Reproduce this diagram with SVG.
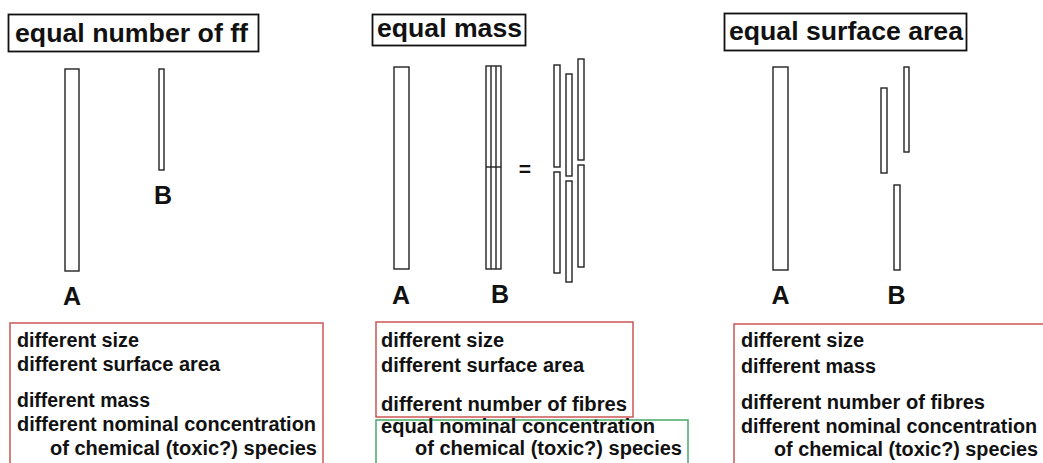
<svg xmlns="http://www.w3.org/2000/svg" width="1043" height="463" viewBox="0 0 1043 463">
<style>
  text { font-family: "Liberation Sans", Arial, sans-serif; font-weight: bold; fill: #111; }
  .title { font-size: 25px; }
  .lbl { font-size: 25px; text-anchor: middle; }
  .body { font-size: 19.5px; }
  .tbox { fill: #fff; stroke: #111; stroke-width: 1.8; }
  .fib { fill: #fff; stroke: #222; stroke-width: 1.4; }
  .ln { stroke: #222; stroke-width: 1.4; fill: none; }
  .red { fill: none; stroke: #cc5555; stroke-width: 1.5; }
  .green { fill: none; stroke: #4aa86a; stroke-width: 1.5; }
</style>
<rect width="1043" height="463" fill="#fff"/>

<g id="panel-number">
  <rect class="tbox" x="8.5" y="14.5" width="250" height="37"/>
  <text class="title" x="15" y="42" textLength="233" lengthAdjust="spacingAndGlyphs">equal number of ff</text>
  <rect class="fib" x="65" y="69" width="14" height="202"/>
  <rect class="fib" x="159" y="69" width="5" height="101"/>
  <text class="lbl" x="163" y="204">B</text>
  <text class="lbl" x="72" y="305">A</text>
  <rect class="red" x="10" y="323" width="313" height="150"/>
  <text class="body" x="17" y="347" textLength="122" lengthAdjust="spacingAndGlyphs">different size</text>
  <text class="body" x="17" y="371" textLength="203" lengthAdjust="spacingAndGlyphs">different surface area</text>
  <text class="body" x="17" y="407" textLength="133" lengthAdjust="spacingAndGlyphs">different mass</text>
  <text class="body" x="17" y="431" textLength="299" lengthAdjust="spacingAndGlyphs">different nominal concentration</text>
  <text class="body" x="50" y="455" textLength="267" lengthAdjust="spacingAndGlyphs">of chemical (toxic?) species</text>
</g>

<g id="panel-mass">
  <rect class="tbox" x="372.5" y="14.5" width="153" height="31"/>
  <text class="title" x="377" y="37" textLength="145" lengthAdjust="spacingAndGlyphs">equal mass</text>
  <rect class="fib" x="394" y="67" width="15" height="202"/>
  <rect class="fib" x="486" y="66" width="15" height="203"/>
  <line class="ln" x1="491" y1="66" x2="491" y2="269"/>
  <line class="ln" x1="496" y1="66" x2="496" y2="269"/>
  <line class="ln" x1="486" y1="167" x2="501" y2="167"/>
  <text x="525" y="176" font-size="21" text-anchor="middle">=</text>
  <rect class="fib" x="554" y="65" width="6" height="102"/>
  <rect class="fib" x="554" y="172" width="6" height="101"/>
  <rect class="fib" x="566" y="74" width="6" height="102"/>
  <rect class="fib" x="566" y="181" width="6" height="101"/>
  <rect class="fib" x="578" y="59" width="6" height="101"/>
  <rect class="fib" x="578" y="165" width="6" height="102"/>
  <text class="lbl" x="401" y="304">A</text>
  <text class="lbl" x="500" y="303">B</text>
  <rect class="red" x="376" y="322" width="257" height="95"/>
  <text class="body" x="381" y="347" textLength="123" lengthAdjust="spacingAndGlyphs">different size</text>
  <text class="body" x="381" y="372" textLength="203" lengthAdjust="spacingAndGlyphs">different surface area</text>
  <text class="body" x="381" y="411" textLength="246" lengthAdjust="spacingAndGlyphs">different number of fibres</text>
  <rect class="green" x="376" y="420" width="312" height="53"/>
  <text class="body" x="381" y="433" textLength="274" lengthAdjust="spacingAndGlyphs">equal nominal concentration</text>
  <text class="body" x="415" y="455" textLength="267" lengthAdjust="spacingAndGlyphs">of chemical (toxic?) species</text>
</g>

<g id="panel-surface">
  <rect class="tbox" x="724.5" y="13.5" width="242" height="37"/>
  <text class="title" x="729" y="40" textLength="234" lengthAdjust="spacingAndGlyphs">equal surface area</text>
  <rect class="fib" x="773" y="67" width="15" height="203"/>
  <rect class="fib" x="881" y="88" width="6" height="85"/>
  <rect class="fib" x="904" y="67" width="5" height="85"/>
  <rect class="fib" x="894" y="185" width="6" height="85"/>
  <text class="lbl" x="780.5" y="304">A</text>
  <text class="lbl" x="896.5" y="304">B</text>
  <rect class="red" x="734" y="324" width="320" height="150"/>
  <text class="body" x="741" y="347" textLength="123" lengthAdjust="spacingAndGlyphs">different size</text>
  <text class="body" x="741" y="373" textLength="135" lengthAdjust="spacingAndGlyphs">different mass</text>
  <text class="body" x="741" y="409" textLength="244" lengthAdjust="spacingAndGlyphs">different number of fibres</text>
  <text class="body" x="741" y="433" textLength="296" lengthAdjust="spacingAndGlyphs">different nominal concentration</text>
  <text class="body" x="774" y="456" textLength="264" lengthAdjust="spacingAndGlyphs">of chemical (toxic?) species</text>
</g>
</svg>
